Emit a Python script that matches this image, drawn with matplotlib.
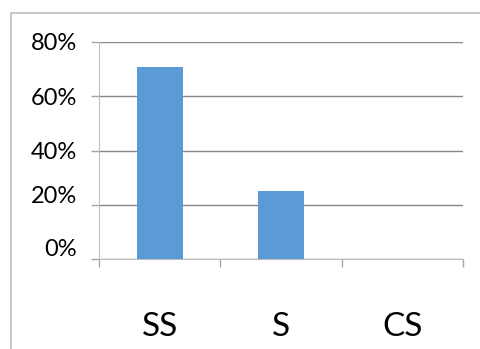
import matplotlib.pyplot as plt
from matplotlib.patches import Rectangle
from matplotlib.ticker import PercentFormatter
from matplotlib.transforms import ScaledTranslation

# dati
categorie = ["SS", "S", "CS"]
valori = [0.708, 0.25, 0.0]
tick_y = [0, 0.2, 0.4, 0.6, 0.8]

plt.rcParams["font.family"] = ["Lato", "DejaVu Sans"]

fig = plt.figure(figsize=(4.8, 3.49), dpi=100)
ax = fig.add_axes([99/480, 90/349, 364/480, 217/349])

# cornice del grafico stile Excel
fig.patches.append(Rectangle((11/480, -0.1), 1.0, (349-13)/349 + 0.1,
                             transform=fig.transFigure, fill=False,
                             edgecolor="#bfbfbf", linewidth=1.2))

x = range(len(categorie))
ax.bar(x, valori, width=0.38, color="#5b9bd5", zorder=3)

ax.set_xlim(-0.5, 2.5)
ax.set_ylim(0, 0.8)
ax.set_yticks(tick_y)
ax.yaxis.set_major_formatter(PercentFormatter(1.0, decimals=0))

ax.set_xticks([-0.5, 0.5, 1.5, 2.5], minor=False)
ax.set_xticklabels([])
ax.set_xticks(list(x), minor=True)
ax.set_xticklabels(categorie, minor=True)
ax.tick_params(axis="x", which="major", length=6, color="#a6a6a6", width=1)
ax.tick_params(axis="x", which="minor", length=0, pad=38, labelsize=24)
ax.tick_params(axis="y", length=6, color="#a6a6a6", width=1, labelsize=17, pad=10)

# le etichette basse stanno un po' sopra la griglia come nell'originale
spost = [0.12, 0.10, 0.0, 0.0, 0.0]
for lab, dy in zip(ax.get_yticklabels(), spost):
    lab.set_transform(lab.get_transform() + ScaledTranslation(0, dy, fig.dpi_scale_trans))

ax.grid(axis="y", color="#868686", linewidth=1, zorder=0)
for s in ["top", "right"]:
    ax.spines[s].set_visible(False)
ax.spines["left"].set_color("#bfbfbf")
ax.spines["bottom"].set_color("#bfbfbf")

fig.savefig("out.png", dpi=100)
